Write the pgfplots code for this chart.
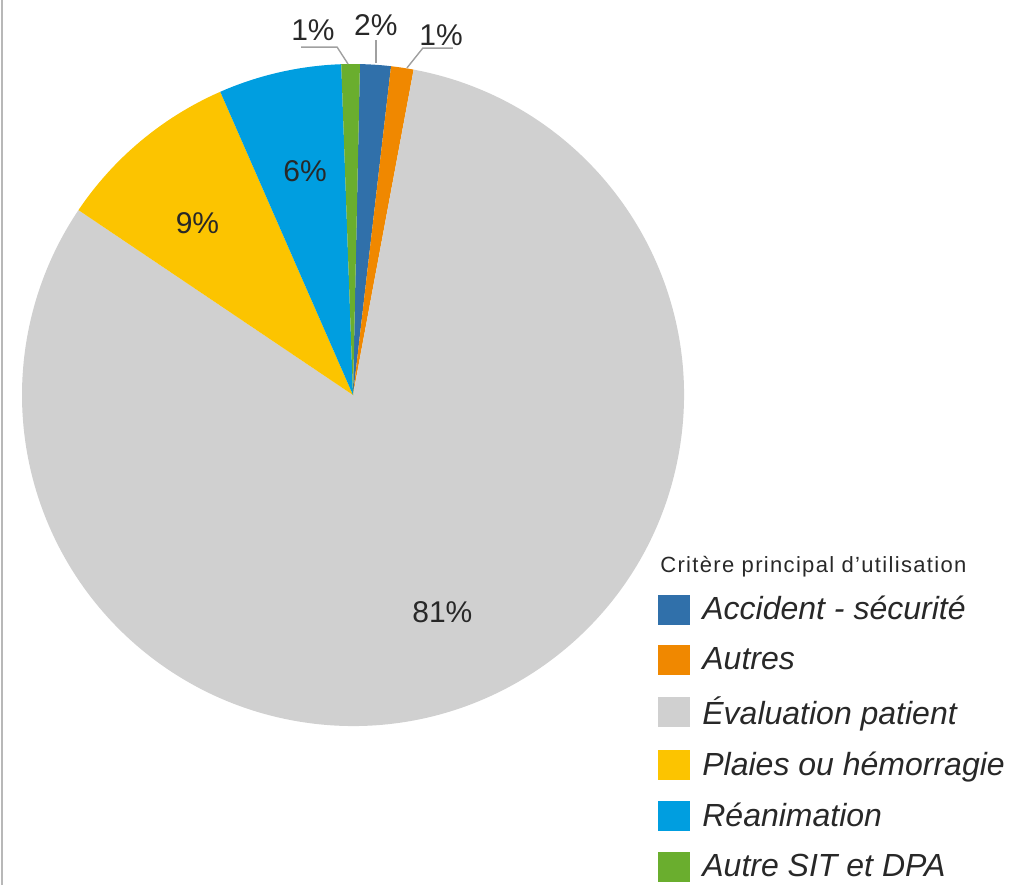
\documentclass[border=0pt]{standalone}
\usepackage{fontspec}
\setmainfont{Liberation Sans}
\usepackage{pgfplots}
\usepackage{pgfplotstable}
\pgfplotsset{compat=1.18}
\definecolor{slice0}{RGB}{48,112,170}
\definecolor{slice1}{RGB}{240,136,0}
\definecolor{slice2}{RGB}{208,208,208}
\definecolor{slice3}{RGB}{252,196,0}
\definecolor{slice4}{RGB}{0,158,224}
\definecolor{slice5}{RGB}{106,174,46}
\definecolor{txt}{RGB}{40,40,40}
\definecolor{lead}{RGB}{160,160,160}

\pgfplotstableread{
idx value
0 1.5
1 1.1
2 81.5
3 9.0
4 6.0
5 0.9
}\piedata

\begin{document}
\begin{tikzpicture}
\useasboundingbox (0,0) rectangle (505pt,442.5pt);
\draw[draw=black!28, line width=1.3pt] (0.9pt,0) -- (0.9pt,442.5pt);
\begin{axis}[
  at={(11pt,79.5pt)}, anchor=south west,
  scale only axis, width=331pt, height=331pt,
  xmin=-1, xmax=1, ymin=-1, ymax=1,
  hide axis, clip=false,
  legend image code/.code={\path[#1] (0pt,-7.5pt) rectangle (16pt,7.5pt);},
  legend style={at={(0.9607,0.2024)}, anchor=north west, draw=none, fill=none,
    font=\fontsize{16pt}{19pt}\selectfont\itshape, text=txt,
    legend cell align=left, row sep=8.2pt, inner sep=0pt,
    /tikz/every odd column/.append style={column sep=4pt}},
]
\pgfplotstablegetrowsof{\piedata}
\pgfmathtruncatemacro\N{\pgfplotsretval-1}
\def\cum{0}
\pgfplotsforeachungrouped \i in {0,...,\N}{%
  \pgfplotstablegetelem{\i}{value}\of\piedata
  \let\v\pgfplotsretval
  \pgfmathsetmacro\a{88.8-\cum*3.6}%
  \pgfmathsetmacro\b{\a-\v*3.6}%
  \pgfmathsetmacro\xa{cos(\a)}%
  \pgfmathsetmacro\ya{sin(\a)}%
  \edef\temp{\noexpand\fill[slice\i] (axis cs:0,0) -- (axis cs:\xa,\ya) arc[start angle=\a, end angle=\b, radius=165.5pt] -- cycle;}%
  \temp
  \pgfmathsetmacro\cum{\cum+\v}%
  \global\let\cum\cum
}
\addlegendimage{fill=slice0, draw=none}\addlegendentry{Accident - sécurité}
\addlegendimage{fill=slice1, draw=none}\addlegendentry{Autres}
\addlegendimage{fill=slice2, draw=none}\addlegendentry{Évaluation patient}
\addlegendimage{fill=slice3, draw=none}\addlegendentry{Plaies ou hémorragie}
\addlegendimage{fill=slice4, draw=none}\addlegendentry{Réanimation}
\addlegendimage{fill=slice5, draw=none}\addlegendentry{Autre SIT et DPA}

\begin{scope}[every node/.style={font=\fontsize{15pt}{18pt}\selectfont, text=txt}]
\node at (axis cs:0.27,-0.656) {81\%};
\node at (axis cs:-0.47,0.52) {9\%};
\node at (axis cs:-0.145,0.675) {6\%};
\node at (axis cs:-0.121,1.103) {1\%};
\node at (axis cs:0.069,1.118) {2\%};
\node at (axis cs:0.266,1.088) {1\%};
\end{scope}
\draw[lead, line width=0.7pt] (axis cs:-0.015,1.0) -- (axis cs:-0.048,1.051) -- (axis cs:-0.157,1.051);
\draw[lead, line width=0.7pt] (axis cs:0.069,1.003) -- (axis cs:0.069,1.073);
\draw[lead, line width=0.7pt] (axis cs:0.163,0.988) -- (axis cs:0.211,1.048) -- (axis cs:0.302,1.048);
\end{axis}
\node[anchor=west, inner sep=0pt, font=\fontsize{11pt}{13pt}\selectfont\addfontfeatures{LetterSpace=6}, text=txt] at (330pt,159pt) {Critère principal d’utilisation};
\end{tikzpicture}
\end{document}
